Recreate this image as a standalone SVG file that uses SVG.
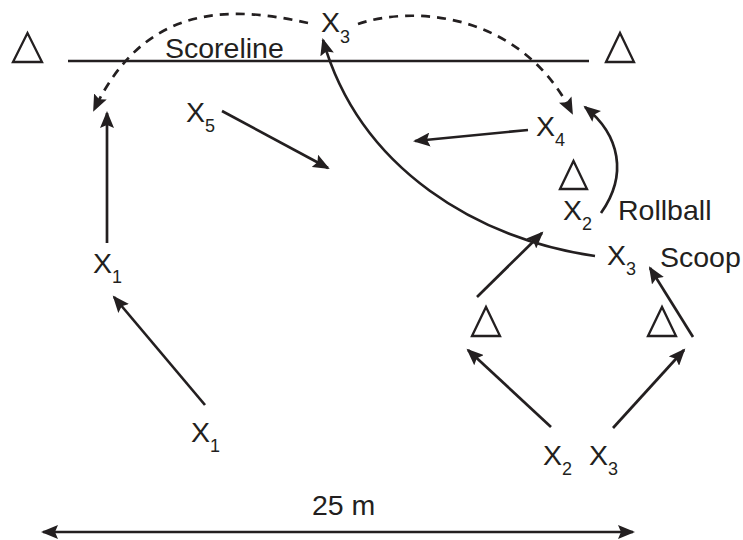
<svg xmlns="http://www.w3.org/2000/svg" width="743" height="540" viewBox="0 0 743 540">
<style>
.t{font-family:"Liberation Sans",Arial,sans-serif;font-size:28.5px;fill:#231f20}
.s{font-size:18px}
.ln{fill:none;stroke:#231f20;stroke-width:2.7}
.d{stroke-dasharray:9 7}
.tri{fill:none;stroke:#231f20;stroke-width:2.3;stroke-linejoin:miter}
</style>
<defs>
<marker id="ah" markerUnits="userSpaceOnUse" markerWidth="18" markerHeight="14" refX="15" refY="7" orient="auto-start-reverse" viewBox="0 0 18 14">
<path d="M0,0 L17,7 L0,14 L3,7 Z" fill="#231f20"/>
</marker>
</defs>
<rect width="743" height="540" fill="#fff"/>
<g id="cones">
<polygon class="tri" points="13,62 27.5,33 42,62"/>
<polygon class="tri" points="606,62 620,33 634,62"/>
<polygon class="tri" points="560,189 573.5,161 587,189"/>
<polygon class="tri" points="472,336 486,307 500,336"/>
<polygon class="tri" points="648,336 662,307 676,336"/>
</g>
<g id="scoreline">
<line class="ln" x1="68" y1="61" x2="589" y2="61"/>
<text class="t" x="165" y="58">Scoreline</text>
</g>
<g id="labels">
<g id="x3top"><text class="t" x="321" y="32">X</text><text class="t s" x="340" y="43">3</text></g>
<g id="x5"><text class="t" x="186" y="122">X</text><text class="t s" x="205" y="132">5</text></g>
<g id="x4"><text class="t" x="536" y="136">X</text><text class="t s" x="555" y="146">4</text></g>
<g id="x2mid"><text class="t" x="563" y="220">X</text><text class="t s" x="582" y="230">2</text></g>
<g id="x3scoop"><text class="t" x="607" y="265">X</text><text class="t s" x="626" y="275">3</text></g>
<g id="x1mid"><text class="t" x="93" y="273">X</text><text class="t s" x="112" y="283">1</text></g>
<g id="x1bot"><text class="t" x="191" y="442">X</text><text class="t s" x="210" y="452">1</text></g>
<g id="x2bot"><text class="t" x="543" y="465">X</text><text class="t s" x="562" y="475">2</text></g>
<g id="x3bot"><text class="t" x="589" y="465">X</text><text class="t s" x="608" y="475">3</text></g>
<text class="t" x="618" y="220">Rollball</text>
<text class="t" x="660" y="267">Scoop</text>
<text class="t" x="312" y="515">25 m</text>
</g>
<g id="connectors">
<path class="ln d" d="M308,23 C232,6 145,2 94,110" marker-end="url(#ah)"/>
<path class="ln d" d="M358,24 C410,6 520,10 572,113" marker-end="url(#ah)"/>
<path class="ln" d="M595,256 C480,240 360,170 323,40" marker-end="url(#ah)"/>
<path class="ln" d="M601,213 C628,175 620,135 585,107" marker-end="url(#ah)"/>
<line class="ln" x1="528" y1="130" x2="415" y2="141" marker-end="url(#ah)"/>
<line class="ln" x1="477" y1="297" x2="542" y2="233" marker-end="url(#ah)"/>
<line class="ln" x1="693" y1="337" x2="650" y2="268" marker-end="url(#ah)"/>
<line class="ln" x1="551" y1="427" x2="468" y2="350" marker-end="url(#ah)"/>
<line class="ln" x1="613" y1="428" x2="684" y2="350" marker-end="url(#ah)"/>
<line class="ln" x1="107" y1="243" x2="107" y2="113" marker-end="url(#ah)"/>
<line class="ln" x1="205" y1="405" x2="114" y2="297" marker-end="url(#ah)"/>
<line class="ln" x1="222" y1="111" x2="328" y2="168" marker-end="url(#ah)"/>
<line class="ln" x1="43" y1="532" x2="633" y2="532" marker-start="url(#ah)" marker-end="url(#ah)"/>
</g>
</svg>
